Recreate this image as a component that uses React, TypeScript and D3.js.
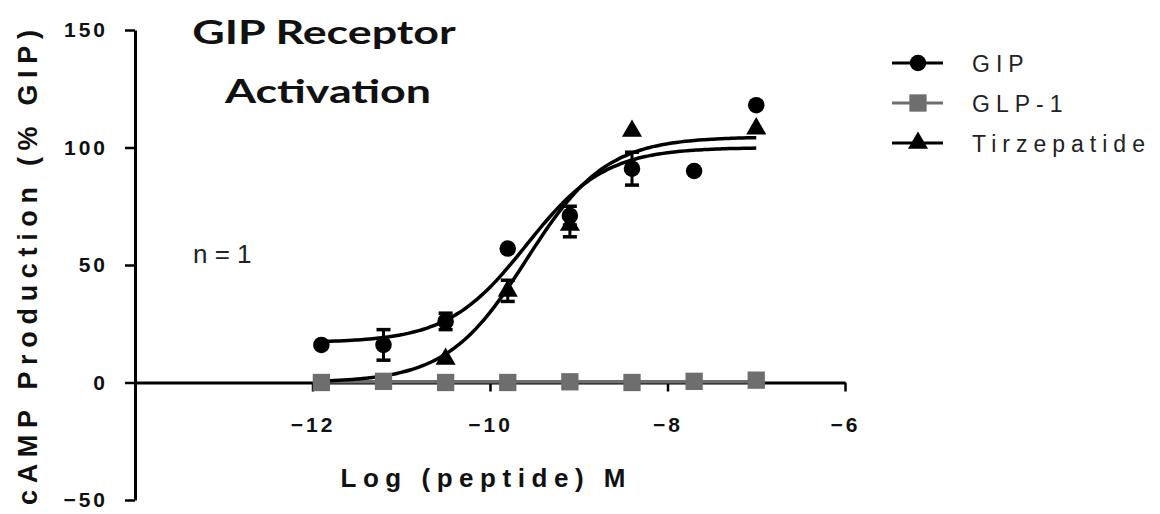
import React, { useEffect, useRef } from 'react';
import * as d3 from 'd3';

const WIDTH = 1160;
const HEIGHT = 514;

// log [peptide] M, 5-fold dilutions
const logDoses = [-11.9, -11.2, -10.5, -9.8, -9.1, -8.4, -7.7, -7.0];
const gipMeans = [16, 16, 26, 57, 71, 91, 90, 118];
const gipSem = [0, 6.5, 3.5, 0, 4, 7, 0, 0];
const glp1Means = [0, 0.5, 0, 0, 0.3, 0, 0.5, 1];
// lowest two tirzepatide points sit under the GLP-1 squares, -7.7 not shown
const tirzMeans = [null, null, 10, 39, 67, 107, null, 108];
const tirzSem = [0, 0, 0, 4.5, 5, 0, 0, 0];

const xTicks = [-12, -10, -8, -6];
const yTicks = [-50, 0, 50, 100, 150];

// 4-parameter logistic fits
const gipFit = { bottom: 17, top: 100, logEC50: -9.59, hill: 0.98 };
const glp1Fit = { bottom: 0.3, top: 0.3, logEC50: -9, hill: 1 };
const tirzFit = { bottom: 0, top: 104.5, logEC50: -9.59, hill: 0.97 };

const legendNames = ['GIP', 'GLP-1', 'Tirzepatide'];

const FONT = "'Liberation Sans', Arial, sans-serif";
const GRAY = '#6e6e6e';

function fourPL(p, x) {
  return p.bottom + (p.top - p.bottom) / (1 + Math.pow(10, (p.logEC50 - x) * p.hill));
}

export default function App() {
  const ref = useRef(null);

  useEffect(() => {
    document.body.style.margin = '0';
    const svg = d3.select(ref.current);
    svg.selectAll('*').remove();

    const x = d3.scaleLinear().domain([-14, -6]).range([135, 845]);
    const y = d3.scaleLinear().domain([-50, 150]).range([500, 30]);

    // y axis
    const yAxis = svg.append('g')
      .attr('transform', `translate(${x(-14)},0)`)
      .call(d3.axisLeft(y).tickValues(yTicks).tickSize(10).tickSizeOuter(0).tickPadding(17));
    yAxis.select('.domain').attr('stroke', '#000').attr('stroke-width', 3);
    yAxis.selectAll('.tick line').attr('stroke', '#000').attr('stroke-width', 2.5);
    yAxis.selectAll('.tick text')
      .attr('font-family', FONT)
      .attr('font-size', 21)
      .attr('font-weight', 'bold')
      .attr('letter-spacing', 3)
      .attr('fill', '#111');

    // x axis sits on y = 0
    const xAxis = svg.append('g')
      .attr('transform', `translate(0,${y(0)})`)
      .call(d3.axisBottom(x).tickValues(xTicks).tickSize(9).tickSizeOuter(0).tickPadding(26));
    xAxis.select('.domain').attr('stroke', '#000').attr('stroke-width', 3);
    xAxis.selectAll('.tick line').attr('stroke', '#000').attr('stroke-width', 2.5);
    xAxis.selectAll('.tick text')
      .attr('font-family', FONT)
      .attr('font-size', 21)
      .attr('font-weight', 'bold')
      .attr('letter-spacing', 3)
      .attr('fill', '#111');

    // axis titles
    svg.append('text')
      .attr('transform', `translate(37,${(505 + 30) / 2}) rotate(-90)`)
      .attr('text-anchor', 'middle')
      .attr('font-family', FONT)
      .attr('font-size', 27)
      .attr('font-weight', 'bold')
      .attr('textLength', 475)
      .attr('lengthAdjust', 'spacing')
      .attr('fill', '#111')
      .text('cAMP Production (% GIP)');

    svg.append('text')
      .attr('x', 483)
      .attr('y', 487)
      .attr('text-anchor', 'middle')
      .attr('font-family', FONT)
      .attr('font-size', 26)
      .attr('font-weight', 'bold')
      .attr('textLength', 285)
      .attr('lengthAdjust', 'spacing')
      .attr('fill', '#111')
      .text('Log (peptide) M');

    // title, stretched wide like the source figure
    svg.append('text')
      .attr('transform', 'translate(324,44) scale(1.4,1)')
      .attr('text-anchor', 'middle')
      .attr('font-family', 'Lato, sans-serif')
      .attr('font-weight', 'bold')
      .attr('font-size', 32)
      .attr('fill', '#111')
      .text('GIP Receptor');
    svg.append('text')
      .attr('transform', 'translate(328,103) scale(1.4,1)')
      .attr('text-anchor', 'middle')
      .attr('font-family', 'Lato, sans-serif')
      .attr('font-weight', 'bold')
      .attr('font-size', 32)
      .attr('fill', '#111')
      .text('Activation');

    svg.append('text')
      .attr('x', 193)
      .attr('y', 263)
      .attr('font-family', FONT)
      .attr('font-size', 26)
      .attr('fill', '#222')
      .text('n = 1');

    // fitted curves
    const curveX = d3.range(logDoses[0], logDoses[logDoses.length - 1] + 0.001, 0.05);
    const line = d3.line()
      .x(d => x(d[0]))
      .y(d => y(d[1]))
      .curve(d3.curveMonotoneX);
    const fits = [
      { p: glp1Fit, color: GRAY },
      { p: tirzFit, color: '#000' },
      { p: gipFit, color: '#000' },
    ];
    fits.forEach(f => {
      svg.append('path')
        .attr('d', line(curveX.map(v => [v, fourPL(f.p, v)])))
        .attr('fill', 'none')
        .attr('stroke', f.color)
        .attr('stroke-width', 3.5);
    });

    const circle = d3.symbol().type(d3.symbolCircle).size(215);
    const square = d3.symbol().type(d3.symbolSquare).size(300);
    const triangle = d3.symbol().type(d3.symbolTriangle).size(175);

    const drawSeries = (means, sems, sym, color) => {
      const pts = logDoses.map((d, i) => ({ d, v: means[i], e: sems ? sems[i] : 0 }))
        .filter(p => p.v != null);
      const g = svg.append('g');
      pts.filter(p => p.e > 0).forEach(p => {
        const cx = x(p.d);
        g.append('line')
          .attr('x1', cx).attr('x2', cx)
          .attr('y1', y(p.v - p.e)).attr('y2', y(p.v + p.e))
          .attr('stroke', color).attr('stroke-width', 3);
        [p.v - p.e, p.v + p.e].forEach(v => {
          g.append('line')
            .attr('x1', cx - 7).attr('x2', cx + 7)
            .attr('y1', y(v)).attr('y2', y(v))
            .attr('stroke', color).attr('stroke-width', 3.5);
        });
      });
      g.selectAll('path')
        .data(pts)
        .enter()
        .append('path')
        .attr('d', sym)
        .attr('transform', p => `translate(${x(p.d)},${y(p.v)})`)
        .attr('fill', color);
    };

    drawSeries(tirzMeans, tirzSem, triangle, '#000');
    drawSeries(glp1Means, null, square, GRAY);
    drawSeries(gipMeans, gipSem, circle, '#000');

    // legend
    const legendSyms = [circle, square, triangle];
    const legendColors = ['#000', GRAY, '#000'];
    legendNames.forEach((name, i) => {
      const ly = 63 + i * 40;
      const g = svg.append('g').attr('transform', `translate(0,${ly})`);
      g.append('line')
        .attr('x1', 892).attr('x2', 943)
        .attr('stroke', legendColors[i]).attr('stroke-width', 3);
      g.append('path')
        .attr('d', legendSyms[i])
        .attr('transform', 'translate(918,0)')
        .attr('fill', legendColors[i]);
      g.append('text')
        .attr('x', 972)
        .attr('y', 9)
        .attr('font-family', FONT)
        .attr('font-size', 23)
        .attr('letter-spacing', 6)
        .attr('fill', '#222')
        .text(name);
    });
  }, []);

  return (
    <svg ref={ref} width={WIDTH} height={HEIGHT} style={{ display: 'block', background: '#fff' }}></svg>
  );
}
